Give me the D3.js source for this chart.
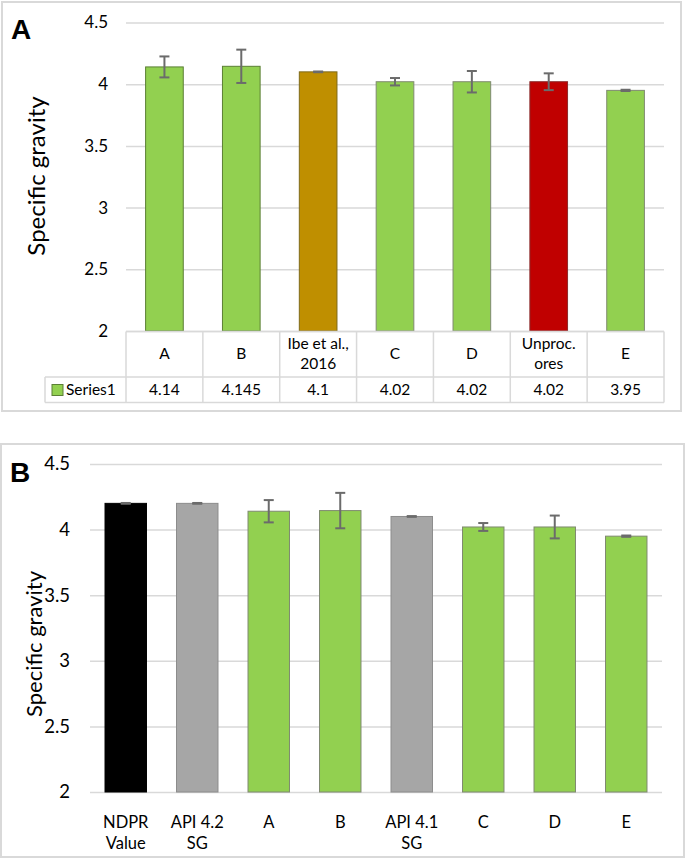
<!DOCTYPE html>
<html><head><meta charset="utf-8">
<script src="https://cdn.jsdelivr.net/npm/d3@7/dist/d3.min.js"></script>
<style>
html,body{margin:0;padding:0;background:#fff;}
svg{display:block;font-family:Lato,"Open Sans",sans-serif;}
</style></head>
<body><svg id="c" width="685" height="859"></svg>
<script>
// ---------- data ----------
const categoriesA = ["A", "B", "Ibe et al.,\n2016", "C", "D", "Unproc.\nores", "E"];
const valuesA = [4.14, 4.145, 4.1, 4.02, 4.02, 4.02, 3.95];
const errorsA = [0.085, 0.135, 0.003, 0.03, 0.087, 0.068, 0.005];
const colorsA = ["#92d050", "#92d050", "#bf8f00", "#92d050", "#92d050", "#c00000", "#92d050"];
const strokesA = ["#5b7f35", "#5b7f35", "#7f6a1a", "#7f8a70", "#7f8a70", "#8a2a2a", "#7f8a70"];

const categoriesB = ["NDPR\nValue", "API 4.2\nSG", "A", "B", "API 4.1\nSG", "C", "D", "E"];
const valuesB = [4.2, 4.2, 4.14, 4.145, 4.1, 4.02, 4.02, 3.95];
const errorsB = [0.003, 0.003, 0.085, 0.135, 0.003, 0.03, 0.087, 0.005];
const colorsB = ["#000000", "#a6a6a6", "#92d050", "#92d050", "#a6a6a6", "#92d050", "#92d050", "#92d050"];
const strokesB = ["#000000", "#8c8c8c", "#7f8a70", "#7f8a70", "#8c8c8c", "#7f8a70", "#7f8a70", "#7f8a70"];

const yTicks = [2, 2.5, 3, 3.5, 4, 4.5];
const seriesName = "Series1";
const yTitle = "Specific gravity";

// ---------- drawing ----------
const svg = d3.select("#c");
const grid = "#d9d9d9";

function panel(cfg) {
  const g = svg.append("g");
  g.append("rect").attr("x", cfg.box[0]).attr("y", cfg.box[1])
    .attr("width", cfg.box[2]).attr("height", cfg.box[3])
    .attr("fill", "none").attr("stroke", grid).attr("stroke-width", 2);
  const x = d3.scaleBand().domain(cfg.cats.map((c, i) => i)).range(cfg.xr);
  const y = d3.scaleLinear().domain([2, 4.5]).range(cfg.yr);
  const ax = d3.axisLeft(y).tickValues(yTicks).tickFormat(d => String(d))
    .tickSize(-(cfg.xr[1] - cfg.xr[0])).tickPadding(cfg.tickPad);
  const axg = g.append("g").attr("transform", `translate(${cfg.xr[0]},0)`).call(ax);
  axg.select(".domain").remove();
  axg.selectAll(".tick line").attr("stroke", grid).attr("stroke-width", 1.5);
  axg.selectAll(".tick text").attr("fill", "#000").attr("font-size", cfg.tickFont)
    .attr("font-family", "Lato,'Open Sans',sans-serif");
  const bw = x.bandwidth() * cfg.barFrac;
  g.selectAll("rect.bar").data(cfg.vals).enter().append("rect").attr("class", "bar")
    .attr("x", (d, i) => x(i) + (x.bandwidth() - bw) / 2)
    .attr("y", d => y(d)).attr("width", bw).attr("height", d => y(2) - y(d))
    .attr("fill", (d, i) => cfg.colors[i]).attr("stroke", (d, i) => cfg.strokes[i]).attr("stroke-width", 1);
  const eg = g.selectAll("g.err").data(cfg.vals).enter().append("g")
    .attr("stroke", "#6b6b6b").attr("stroke-width", 2);
  const cx = i => x(i) + x.bandwidth() / 2;
  eg.append("line").attr("x1", (d, i) => cx(i)).attr("x2", (d, i) => cx(i))
    .attr("y1", (d, i) => y(d + cfg.errs[i])).attr("y2", (d, i) => y(d - cfg.errs[i]));
  [1, -1].forEach(s => {
    eg.append("line").attr("x1", (d, i) => cx(i) - 5).attr("x2", (d, i) => cx(i) + 5)
      .attr("y1", (d, i) => y(d + s * cfg.errs[i])).attr("y2", (d, i) => y(d + s * cfg.errs[i]));
  });
  g.append("text").attr("transform", `translate(${cfg.titleX},${cfg.titleY}) rotate(-90)`)
    .attr("text-anchor", "middle").attr("font-size", cfg.titleFont).attr("fill", "#000")
    .text(yTitle);
  g.append("text").attr("x", cfg.letterPos[0]).attr("y", cfg.letterPos[1])
    .attr("font-family", "'Liberation Sans',Arial,sans-serif").attr("font-weight", "bold")
    .attr("font-size", 28).attr("fill", "#000").text(cfg.letter);
  return {g, x, y};
}

// Panel A
const A = panel({
  box: [2, 2, 679, 409], cats: categoriesA, vals: valuesA, errs: errorsA,
  colors: colorsA, strokes: strokesA, xr: [126, 664], yr: [331, 22.5],
  barFrac: 0.49, tickFont: 17, tickPad: 18, titleX: 45, titleY: 176, titleFont: 24,
  letter: "A", letterPos: [11, 39]
});
(function () {
  const {g, x} = A;
  const top = 331.5, mid = 377, bot = 402.5, left = 45;
  const tg = g.append("g").attr("stroke", grid).attr("stroke-width", 1.5);
  tg.append("line").attr("x1", x(0)).attr("x2", 664).attr("y1", top).attr("y2", top);
  tg.append("line").attr("x1", left).attr("x2", 664).attr("y1", mid).attr("y2", mid);
  tg.append("line").attr("x1", left).attr("x2", 664).attr("y1", bot).attr("y2", bot);
  tg.append("line").attr("x1", left).attr("x2", left).attr("y1", mid).attr("y2", bot);
  categoriesA.forEach((c, i) => {
    tg.append("line").attr("x1", x(i)).attr("x2", x(i)).attr("y1", top).attr("y2", bot);
  });
  tg.append("line").attr("x1", 664).attr("x2", 664).attr("y1", top).attr("y2", bot);
  categoriesA.forEach((c, i) => {
    const lines = c.split("\n");
    const cxp = x(i) + x.bandwidth() / 2;
    const t = g.append("text").attr("text-anchor", "middle").attr("font-size", 15.5).attr("fill", "#000");
    lines.forEach((l, k) => {
      t.append("tspan").attr("x", cxp)
        .attr("y", (top + mid) / 2 + 5 + (k - (lines.length - 1) / 2) * 20).text(l);
    });
  });
  valuesA.forEach((v, i) => {
    g.append("text").attr("x", x(i) + x.bandwidth() / 2).attr("y", (mid + bot) / 2 + 5.5)
      .attr("text-anchor", "middle").attr("font-size", 15.5).attr("fill", "#000").text(String(v));
  });
  g.append("rect").attr("x", 52).attr("y", 384.5).attr("width", 11).attr("height", 11)
    .attr("fill", "#92d050").attr("stroke", "#5b7f35").attr("stroke-width", 1);
  g.append("text").attr("x", 66).attr("y", (mid + bot) / 2 + 5.5).attr("font-size", 15.5)
    .attr("fill", "#000").text(seriesName);
})();

// Panel B
const B = panel({
  box: [1, 444, 683, 413], cats: categoriesB, vals: valuesB, errs: errorsB,
  colors: colorsB, strokes: strokesB, xr: [90, 662], yr: [792, 464],
  barFrac: 0.58, tickFont: 18.5, tickPad: 20, titleX: 42, titleY: 644, titleFont: 22,
  letter: "B", letterPos: [10, 482]
});
(function () {
  const {g, x} = B;
  categoriesB.forEach((c, i) => {
    const lines = c.split("\n");
    const t = g.append("text").attr("text-anchor", "middle").attr("font-size", 16.5).attr("fill", "#000");
    lines.forEach((l, k) => {
      t.append("tspan").attr("x", x(i) + x.bandwidth() / 2).attr("y", 828 + k * 21).text(l);
    });
  });
})();
</script></body></html>
